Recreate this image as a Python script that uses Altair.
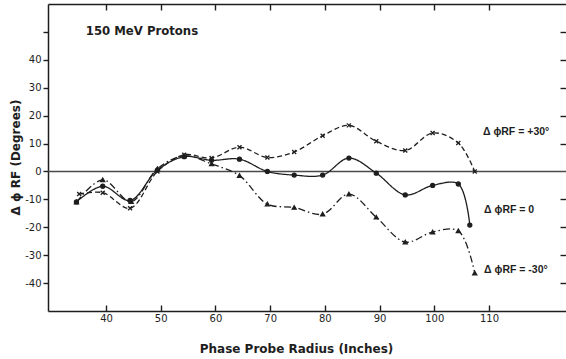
import altair as alt
import pandas as pd

# ---- data ----
series_names = ["+30", "0", "-30"]

x_plus30 = [35.1, 39.4, 44.4, 49.4, 54.3, 59.3, 64.4, 69.5, 74.4, 79.6, 84.4, 89.4, 94.7, 99.7, 104.4, 107.4]
y_plus30 = [-8.1, -7.6, -13.2, 0.0, 6.0, 4.8, 8.7, 5.0, 7.0, 12.8, 16.5, 10.8, 7.5, 13.8, 10.2, 0.0]

x_zero = [34.6, 39.4, 44.4, 49.4, 54.3, 59.3, 64.4, 69.5, 74.4, 79.6, 84.4, 89.4, 94.7, 99.7, 104.4, 106.5]
y_zero = [-10.9, -5.3, -10.4, 0.5, 5.3, 4.0, 4.4, 0.0, -1.3, -1.3, 4.8, -0.6, -8.4, -5.0, -4.5, -19.2]

x_minus30 = [34.6, 39.4, 44.6, 49.4, 54.3, 59.3, 64.4, 69.5, 74.4, 79.6, 84.4, 89.4, 94.7, 99.7, 104.4, 107.4]
y_minus30 = [-11.0, -3.0, -10.8, 1.0, 5.6, 2.7, -1.5, -11.7, -12.9, -15.3, -8.1, -16.4, -25.3, -21.7, -21.3, -36.4]

x_ticks = [40, 50, 60, 70, 80, 90, 100, 110]
y_ticks = [-40, -30, -20, -10, 0, 10, 20, 30, 40, 50]

label_texts = ["Δ ϕRF = +30°", "Δ ϕRF = 0", "Δ ϕRF = -30°"]
label_x = [108.9, 109.1, 109.1]
label_y = [14.3, -13.7, -35.2]

title_text = ["150 MeV Protons"]
title_x = [36.3]
title_y = [50.4]

# ---- tables ----
rows = []
for name, xs, ys in zip(series_names, [x_plus30, x_zero, x_minus30], [y_plus30, y_zero, y_minus30]):
    for i, (x, y) in enumerate(zip(xs, ys)):
        rows.append({"series": name, "order": i, "r": x, "phi": y})
df = pd.DataFrame(rows)
df_labels = pd.DataFrame({"r": label_x, "phi": label_y, "text": label_texts})
df_title = pd.DataFrame({"r": title_x, "phi": title_y, "text": title_text})
df_zero = pd.DataFrame({"phi": [0]})

INK = "#1e1e1e"
FONT = "DejaVu Sans"
W, H = 518, 307
INWARD = alt.ExprRef(expr="-6")

xscale = alt.Scale(domain=[29.4, 124.08], nice=False, zero=False)
yscale = alt.Scale(domain=[-50, 60], nice=False, zero=False)

left_axis = alt.Axis(
    orient="left", values=y_ticks, grid=False,
    labelExpr="datum.value == 50 ? '' : datum.value",
    domain=True, domainColor=INK, domainWidth=1.5,
    ticks=True, tickSize=5, tickColor=INK, tickWidth=1.4,
    labelPadding=2, labelFont=FONT, labelFontSize=10, labelColor=INK,
    title="Δ ϕ RF  (Degrees)", titleFont=FONT, titleFontSize=12, titleFontWeight="bold",
    titleColor=INK, titleAngle=270, titleX=-33, titleY=153, titleAlign="center",
    titleBaseline="middle",
)

bottom_axis = alt.Axis(
    orient="bottom", values=x_ticks, grid=False,
    domain=True, domainColor=INK, domainWidth=1.5,
    ticks=True, tickSize=INWARD, tickColor=INK, tickWidth=1.4,
    labelPadding=8, labelFont=FONT, labelFontSize=10, labelColor=INK,
    title="Phase Probe Radius (Inches)", titleFont=FONT, titleFontSize=12,
    titleFontWeight="bold", titleColor=INK, titleX=248, titleY=37,
    titleAlign="center", titleBaseline="middle",
)

right_axis = alt.Axis(
    orient="right", values=[v for v in y_ticks if v != 0], grid=False,
    domain=False, labels=False, ticks=True, tickSize=INWARD, tickColor=INK,
    tickWidth=1.4, title=None,
)
top_axis = alt.Axis(
    orient="top", values=x_ticks, grid=False, domain=True, domainColor=INK,
    domainWidth=1.5, labels=False, ticks=True, tickSize=INWARD, tickColor=INK,
    tickWidth=1.4, title=None,
)

zero = alt.Chart(df_zero).mark_rule(color="#4a4a4a", strokeWidth=1.5).encode(
    y=alt.Y("phi:Q", scale=yscale, axis=left_axis)
)

lines = alt.Chart(df).mark_line(
    interpolate="catmull-rom", color=INK, strokeWidth=1.3
).encode(
    x=alt.X("r:Q", scale=xscale, axis=bottom_axis),
    y=alt.Y("phi:Q", scale=yscale, axis=None),
    order="order:Q",
    detail="series:N",
    strokeDash=alt.StrokeDash(
        "series:N",
        scale=alt.Scale(domain=series_names, range=[[5, 3], [1, 0], [7, 3, 1.5, 3]]),
        legend=None,
    ),
)

points = alt.Chart(df).mark_point(
    fill=INK, stroke=INK, strokeWidth=1.3, opacity=1, size=16
).encode(
    x=alt.X("r:Q", scale=xscale, axis=top_axis),
    y=alt.Y("phi:Q", scale=yscale, axis=right_axis),
    shape=alt.Shape(
        "series:N",
        scale=alt.Scale(
            domain=series_names,
            range=["M-1,-1L1,1M1,-1L-1,1", "circle", "triangle-up"],
        ),
        legend=None,
    ),
)

labels = alt.Chart(df_labels).mark_text(
    align="left", baseline="middle", font="Liberation Sans", fontSize=10.5,
    fontWeight="bold", color=INK
).encode(
    x=alt.X("r:Q", scale=xscale, axis=None),
    y=alt.Y("phi:Q", scale=yscale, axis=None),
    text="text:N",
)

title = alt.Chart(df_title).mark_text(
    align="left", baseline="middle", font=FONT, fontSize=11.7, fontWeight="bold", color=INK
).encode(
    x=alt.X("r:Q", scale=xscale, axis=None),
    y=alt.Y("phi:Q", scale=yscale, axis=None),
    text="text:N",
)

chart = (
    alt.layer(zero, lines, points, labels, title)
    .resolve_axis(x="independent", y="independent")
    .properties(
        width=W, height=H,
        padding={"left": 48, "top": 4, "right": 0, "bottom": 48},
        autosize=alt.AutoSizeParams(type="none"),
        background="white",
    )
    .configure_view(stroke=None)
)

chart.save("out.html", embed_options={"renderer": "svg", "actions": False})
